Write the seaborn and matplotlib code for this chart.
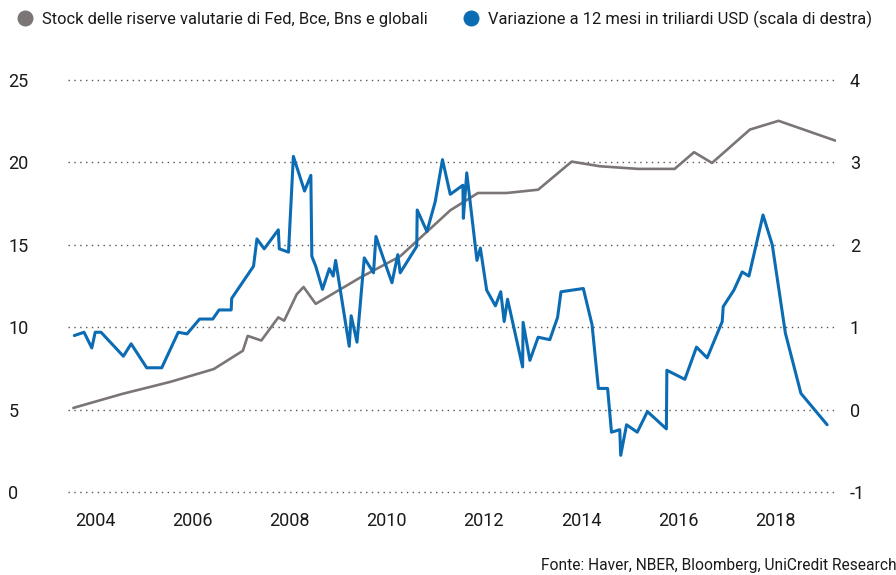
"""Riserve valutarie: stock (asse sinistro) e variazione a 12 mesi (asse destro)."""

import matplotlib

matplotlib.use("Agg")
import matplotlib.pyplot as plt
import seaborn as sns
from matplotlib.lines import Line2D

# stock delle riserve valutarie (asse sinistro)
stock_years = [2003.55, 2004.56, 2005.55, 2006.44, 2007.04, 2007.14, 2007.42, 2007.77,
               2007.89, 2008.15, 2008.29, 2008.54, 2009.45, 2010.28, 2011.31, 2011.88,
               2012.47, 2013.12, 2013.81, 2014.39, 2015.18, 2015.93, 2016.33, 2016.70,
               2017.48, 2018.07, 2019.24]
stock_values = [5.12, 5.97, 6.7, 7.47, 8.58, 9.48, 9.2, 10.6,
                10.4, 12.0, 12.44, 11.42, 13.0, 14.3, 17.08, 18.13,
                18.13, 18.33, 20.03, 19.75, 19.59, 19.59, 20.6, 19.95,
                21.97, 22.5, 21.3]

# variazione a 12 mesi in triliardi USD (asse destro)
change_years = [2003.57, 2003.77, 2003.93, 2004.00, 2004.12, 2004.58, 2004.74, 2005.06,
                2005.37, 2005.71, 2005.89, 2006.15, 2006.42, 2006.55, 2006.80, 2006.81,
                2007.26, 2007.33, 2007.48, 2007.77, 2007.79, 2007.98, 2008.08, 2008.31,
                2008.44, 2008.46, 2008.54, 2008.68, 2008.82, 2008.90, 2008.95, 2009.23,
                2009.27, 2009.39, 2009.54, 2009.73, 2009.78, 2009.93, 2010.11, 2010.23,
                2010.28, 2010.62, 2010.63, 2010.83, 2011.00, 2011.15, 2011.31, 2011.57,
                2011.58, 2011.65, 2011.86, 2011.93, 2012.06, 2012.24, 2012.35, 2012.42,
                2012.49, 2012.80, 2012.81, 2012.95, 2013.12, 2013.36, 2013.52, 2013.59,
                2014.05, 2014.23, 2014.36, 2014.55, 2014.63, 2014.80, 2014.82, 2014.94,
                2015.16, 2015.37, 2015.76, 2015.77, 2016.14, 2016.38, 2016.60, 2016.91,
                2016.93, 2017.15, 2017.32, 2017.46, 2017.75, 2017.94, 2018.21, 2018.53,
                2019.07]
change_values = [0.90, 0.94, 0.75, 0.94, 0.94, 0.65, 0.80, 0.51,
                 0.51, 0.94, 0.92, 1.10, 1.10, 1.21, 1.21, 1.35,
                 1.74, 2.07, 1.95, 2.18, 1.95, 1.91, 3.07, 2.65,
                 2.84, 1.86, 1.74, 1.46, 1.71, 1.62, 1.81, 0.77,
                 1.14, 0.82, 1.84, 1.66, 2.10, 1.84, 1.54, 1.88,
                 1.66, 1.98, 2.42, 2.16, 2.52, 3.03, 2.61, 2.72,
                 2.32, 2.87, 1.81, 1.96, 1.45, 1.26, 1.43, 1.07,
                 1.34, 0.52, 1.06, 0.60, 0.88, 0.85, 1.12, 1.43,
                 1.47, 1.03, 0.26, 0.26, -0.27, -0.24, -0.55, -0.18,
                 -0.27, -0.02, -0.23, 0.48, 0.37, 0.76, 0.63, 1.07,
                 1.25, 1.45, 1.67, 1.62, 2.36, 2.00, 0.93, 0.20,
                 -0.18]

year_ticks = [2004, 2006, 2008, 2010, 2012, 2014, 2016, 2018]
left_ticks = [0, 5, 10, 15, 20, 25]
right_ticks = [-1, 0, 1, 2, 3, 4]

legend_labels = ["Stock delle riserve valutarie di Fed, Bce, Bns e globali",
                 "Variazione a 12 mesi in triliardi USD (scala di destra)"]
source_text = "Fonte: Haver, NBER, Bloomberg, UniCredit Research"

GRAY = "#7b7675"
BLUE = "#0b6cb4"
TEXT = "#1a1a1a"

sns.set_theme(style="white")
plt.rcParams["font.family"] = ["Roboto", "DejaVu Sans"]

fig = plt.figure(figsize=(8.96, 5.75), dpi=100)
ax = fig.add_axes([0.0759, 0.1435, 0.857, 0.7182])
ax2 = ax.twinx()

sns.lineplot(x=stock_years, y=stock_values, ax=ax, color=GRAY, lw=1.9,
             estimator=None, sort=False)
sns.lineplot(x=change_years, y=change_values, ax=ax2, color=BLUE, lw=2.2,
             estimator=None, sort=False)

ax.set_xlim(2003.44, 2019.25)
ax.set_ylim(0, 25)
ax2.set_ylim(-1, 4)

ax.set_xticks(year_ticks)
ax.set_xticklabels([str(y) for y in year_ticks])
ax.set_yticks(left_ticks)
ax.set_yticklabels([str(v) for v in left_ticks], ha="left")
ax2.set_yticks(right_ticks)
ax2.set_yticklabels([str(v) for v in right_ticks])

ax.yaxis.grid(True, linestyle=(0, (1, 3.2)), color="#555555", lw=1.0)
ax.xaxis.grid(False)
ax2.grid(False)
# keep the top and bottom dotted lines fully visible at the axes edges
for gl in ax.get_ygridlines():
    gl.set_clip_on(False)

for a in (ax, ax2):
    for s in a.spines.values():
        s.set_visible(False)

ax.tick_params(axis="x", length=0, pad=14, labelsize=13, labelcolor=TEXT)
ax.tick_params(axis="y", length=0, pad=43, labelsize=13, labelcolor=TEXT)
ax2.tick_params(axis="y", length=0, pad=10, labelsize=13, labelcolor=TEXT)
ax.set_xlabel("")
ax.set_ylabel("")
ax2.set_ylabel("")

handles = [Line2D([], [], marker="o", ls="", ms=10.5, color=GRAY),
           Line2D([], [], marker="o", ls="", ms=10.5, color=BLUE)]
fig.legend(handles, legend_labels, loc="upper left", bbox_to_anchor=(0.002, 1.008),
           ncol=2, frameon=False, fontsize=11.9, handlelength=1.0, handletextpad=0.55,
           columnspacing=2.1, labelcolor=TEXT)

fig.text(1.0, 0.004, source_text, ha="right", va="bottom", fontsize=11.2, color=TEXT)

fig.savefig("out.png", dpi=100)
